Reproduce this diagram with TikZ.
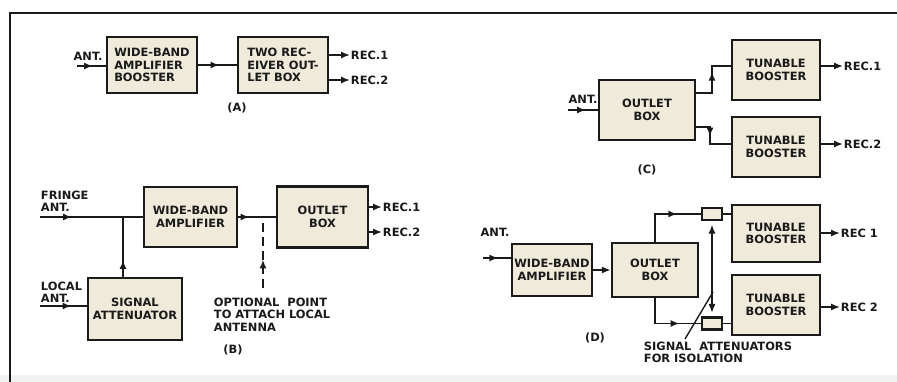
\documentclass[tikz,border=0pt]{standalone}
\usepackage{fontspec}
\setmainfont{DejaVu Sans}
\usetikzlibrary{arrows.meta,decorations.markings}
\definecolor{boxfill}{HTML}{EFEADA}
\definecolor{ink}{HTML}{1A1A1A}

\begin{document}
\begin{tikzpicture}[x=0.02cm, y=-0.02cm, line width=1.1pt, color=ink,
  font=\fontsize{6.5}{7.1}\selectfont\bfseries,
  blk/.style={draw, line width=1.4pt, fill=boxfill, inner sep=1pt, align=center},
  lbl/.style={inner sep=0pt},
  tip/.style={-{Latex[length=5pt,width=4pt]}},
  midarr/.style={postaction={decorate}, decoration={markings,
      mark=at position #1 with {\arrow{Latex[length=5pt,width=4pt]}}}},
  midarr/.default=0.55]
  \useasboundingbox (0,0) rectangle (897,382);
  \fill[gray!10] (0,375) rectangle (897,382);
  \draw[line width=1.6pt] (10,382) -- (10,13) -- (897,13);

  % (A)
  \node[blk, align=left, minimum width=1.8cm, minimum height=1.12cm] (ampA) at (152,65) {WIDE-BAND\\AMPLIFIER\\BOOSTER};
  \node[blk, align=left, minimum width=1.8cm, minimum height=1.12cm] (outA) at (283,65) {TWO REC-\\EIVER OUT-\\LET BOX};
  \node[lbl] (antA) at (88,56) {ANT.};
  \coordinate (antAin) at (77,66);
  \node[lbl, anchor=west] (rA1) at (350,55) {REC.1};
  \node[lbl, anchor=west] (rA2) at (350,80) {REC.2};
  \node[lbl] (capA) at (237,108) {(A)};

  \draw[midarr] (antAin) -- (antAin -| ampA.west);
  \draw[midarr] (ampA.east) -- (outA.west);
  \draw[tip] (outA.east |- rA1) -- (rA1.west);
  \draw[tip] (outA.east |- rA2) -- (rA2.west);

  % (C)
  \node[blk, minimum width=1.92cm, minimum height=1.2cm] (outC) at (647,110) {OUTLET\\BOX};
  \node[blk, minimum width=1.76cm, minimum height=1.2cm] (tunC1) at (776,70) {TUNABLE\\BOOSTER};
  \node[blk, minimum width=1.76cm, minimum height=1.2cm] (tunC2) at (776,147) {TUNABLE\\BOOSTER};
  \node[lbl] (antC) at (583,99) {ANT.};
  \coordinate (antCin) at (568,110);
  \coordinate (c1) at (712,93);
  \coordinate (c2) at (710,127);
  \node[lbl, anchor=west] (rC1) at (843,66) {REC.1};
  \node[lbl, anchor=west] (rC2) at (843,144) {REC.2};
  \node[lbl] (capC) at (647,170) {(C)};

  \draw[midarr=0.6] (antCin) -- (outC.west);
  \draw[midarr=0.6] (outC.east |- c1) -- (c1) -- (c1 |- rC1) -- (tunC1.west |- rC1);
  \draw[midarr=0.45] (outC.east |- c2) -- (c2) -- (c2 |- rC2) -- (tunC2.west |- rC2);
  \draw[tip] (tunC1.east |- rC1) -- (rC1.west);
  \draw[tip] (tunC2.east |- rC2) -- (rC2.west);

  % (B)
  \node[blk, minimum width=1.86cm, minimum height=1.2cm] (ampB) at (190.5,217) {WIDE-BAND\\AMPLIFIER};
  \node[blk, minimum width=1.82cm, minimum height=1.22cm] (outB) at (322.5,217) {OUTLET\\BOX};
  \node[blk, minimum width=1.88cm, minimum height=1.24cm] (attB) at (135,309) {SIGNAL\\ATTENUATOR};
  \node[lbl, align=left, anchor=west] (frg) at (40,201) {FRINGE\\ANT.};
  \node[lbl, align=left, anchor=west] (loc) at (40,292) {LOCAL\\ANT.};
  \coordinate (frgin) at (40,217);
  \coordinate (locin) at (40,306);
  \coordinate (jB) at (123,217);
  \coordinate (jB2) at (263,217);
  \coordinate (optin) at (263,288);
  \node[lbl, align=left, anchor=north west] (opt) at (213,297) {OPTIONAL\ \ POINT\\TO ATTACH LOCAL\\ANTENNA};
  \node[lbl, anchor=west] (rB1) at (382,207) {REC.1};
  \node[lbl, anchor=west] (rB2) at (382,232) {REC.2};
  \node[lbl] (capB) at (233,350) {(B)};

  \draw[midarr=0.31] (frgin) -- (ampB.west);
  \draw[midarr=0.67] (locin) -- (locin -| attB.west);
  \draw[midarr=0.28] (jB |- attB.north) -- (jB);
  \draw[midarr=0.3] (ampB.east) -- (outB.west);
  \draw[dash pattern=on 5pt off 3pt, midarr=0.4] (optin) -- (jB2);
  \draw[tip] (outB.east |- rB1) -- (rB1.west);
  \draw[tip] (outB.east |- rB2) -- (rB2.west);

  % (D)
  \node[blk, minimum width=1.6cm, minimum height=1.04cm] (ampD) at (552,270) {WIDE-BAND\\AMPLIFIER};
  \node[blk, minimum width=1.72cm, minimum height=1.08cm] (outD) at (655,270) {OUTLET\\BOX};
  \node[blk, minimum width=1.76cm, minimum height=1.14cm] (tunD1) at (776,233.5) {TUNABLE\\BOOSTER};
  \node[blk, minimum width=1.76cm, minimum height=1.2cm] (tunD2) at (776,305) {TUNABLE\\BOOSTER};
  \node[blk, minimum width=0.4cm, minimum height=0.24cm] (attD1) at (712,214) {};
  \node[blk, minimum width=0.4cm, minimum height=0.24cm] (attD2) at (712,323.5) {};
  \node[lbl] (antD) at (495,232) {ANT.};
  \coordinate (antDin) at (483,258);
  \node[lbl, anchor=west] (rD1) at (840,233) {REC 1};
  \node[lbl, anchor=west] (rD2) at (840,307) {REC 2};
  \node[lbl, align=left, anchor=north west] (notD) at (643,341) {SIGNAL\ \ ATTENUATORS\\FOR ISOLATION};
  \coordinate (dgs) at (685,339);
  \coordinate (dge) at (713,292);
  \node[lbl] (capD) at (595,338) {(D)};

  \draw[midarr] (antDin) -- (antDin -| ampD.west);
  \draw[tip] (ampD.east) -- (outD.west);
  \draw[midarr=0.68] (outD.north) |- (attD1.west);
  \draw[midarr=0.7] (outD.south) |- (attD2.west);
  \draw (attD1.east) -- (attD1 -| tunD1.west);
  \draw (attD2.east) -- (attD2 -| tunD2.west);
  \draw[tip] (tunD1.east |- rD1) -- (rD1.west);
  \draw[tip] (tunD2.east |- rD2) -- (rD2.west);
  \draw[{Latex[length=5pt,width=4pt]}-{Latex[length=5pt,width=4pt]}, line width=0.8pt,
    shorten <=2pt, shorten >=2pt] (attD1.south) -- (attD2.north);
  \draw[line width=0.8pt] (dgs) -- (dge);
\end{tikzpicture}
\end{document}
